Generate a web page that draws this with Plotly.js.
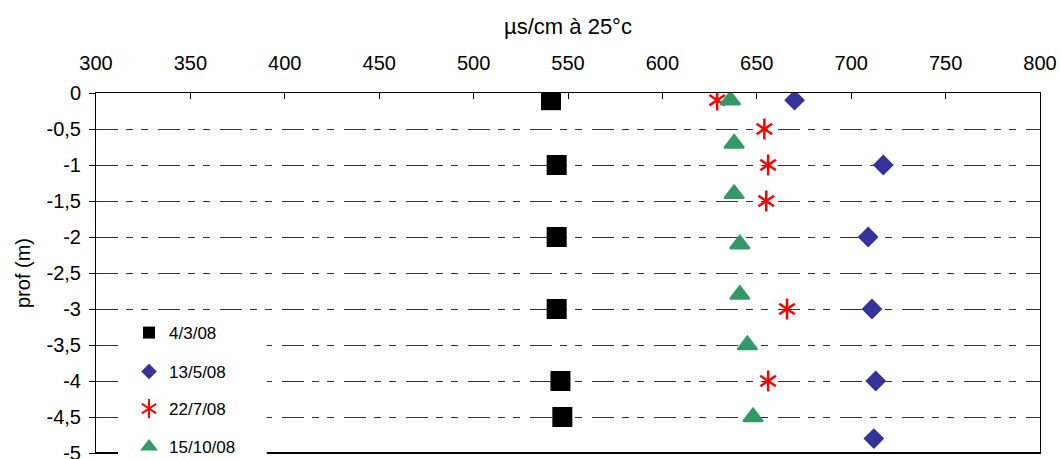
<!DOCTYPE html>
<html>
<head>
<meta charset="utf-8">
<script src="https://cdn.plot.ly/plotly-3.0.1.min.js"></script>
<style>html,body{margin:0;padding:0;background:#fff;}#chart{width:1060px;height:459px;}</style>
</head>
<body>
<div id="chart"></div>
<script>
// Series names
const seriesNames = ["4/3/08", "13/5/08", "22/7/08", "15/10/08"];

// 4/3/08
const s1x = [541, 544, 544, 544, 546, 547];
const s1y = [-0.1, -1, -2, -3, -4, -4.5];
// 13/5/08
const s2x = [670, 717, 709, 711, 713, 712];
const s2y = [-0.1, -1, -2, -3, -4, -4.8];
// 22/7/08
const s3x = [629, 654, 656, 655, 666, 656];
const s3y = [-0.1, -0.5, -1, -1.5, -3, -4];
// 15/10/08
const s4x = [636, 638, 638, 641, 641, 645, 648];
const s4y = [-0.1, -0.7, -1.4, -2.1, -2.8, -3.5, -4.5];

// Tick labels
const xTickVals = [300, 350, 400, 450, 500, 550, 600, 650, 700, 750, 800];
const xTickText = ["300", "350", "400", "450", "500", "550", "600", "650", "700", "750", "800"];
const yTickVals = [0, -0.5, -1, -1.5, -2, -2.5, -3, -3.5, -4, -4.5, -5];
const yTickText = ["0", "-0,5", "-1", "-1,5", "-2", "-2,5", "-3", "-3,5", "-4", "-4,5", "-5"];

const FONT = "Liberation Sans, Arial, sans-serif";
const legY = [0.3333, 0.225, 0.1222, 0.0167];
const legX = 0.035;

const traces = [
  {x: s1x, y: s1y, name: seriesNames[0], type: "scatter", mode: "markers", legend: "legend",
   marker: {symbol: "square", size: 20, color: "#000000"}},
  {x: s2x, y: s2y, name: seriesNames[1], type: "scatter", mode: "markers", legend: "legend2",
   marker: {symbol: "diamond", size: 16, color: "#333399"}},
  {x: s3x, y: s3y, name: seriesNames[2], type: "scatter", mode: "markers", legend: "legend3",
   marker: {symbol: "y-up-open", size: 13, color: "#FF0000", line: {color: "#FF0000", width: 2.5}}},
  {x: s3x, y: s3y, name: " ", type: "scatter", mode: "markers", legend: "legend5",
   marker: {symbol: "y-down-open", size: 13, color: "#FF0000", line: {color: "#FF0000", width: 2.5}}},
  {x: s4x, y: s4y, name: seriesNames[3], type: "scatter", mode: "markers", legend: "legend4",
   marker: {symbol: "triangle-up", size: 17, color: "#339966", line: {color: "#339966", width: 2}}}
];

function leg(y) {
  return {
    x: legX, y: y, xanchor: "left", yanchor: "middle",
    bgcolor: "rgba(0,0,0,0)", borderwidth: 0,
    font: {family: FONT, size: 17, color: "#000000"},
    itemsizing: "constant"
  };
}

const layout = {
  width: 1060, height: 459,
  margin: {l: 96, r: 20, t: 93, b: 6, autoexpand: false},
  paper_bgcolor: "#ffffff", plot_bgcolor: "#ffffff",
  font: {family: FONT, size: 20, color: "#000000"},
  showlegend: true,
  legend: leg(legY[0]),
  legend2: leg(legY[1]),
  legend3: leg(legY[2]),
  legend4: leg(legY[3]),
  legend5: leg(legY[2]),
  xaxis: {
    side: "top", range: [300, 800], tickvals: xTickVals, ticktext: xTickText,
    ticks: "inside", ticklen: 6, tickcolor: "#000", tickwidth: 1,
    showline: true, linecolor: "#000", linewidth: 1, mirror: true,
    showgrid: false, zeroline: false, ticklabelstandoff: 14,
    title: {text: "µs/cm à 25°c", font: {family: FONT, size: 22}, standoff: 11}
  },
  yaxis: {
    range: [-5, 0], tickvals: yTickVals, ticktext: yTickText,
    ticks: "outside", ticklen: 6, tickcolor: "#000", tickwidth: 1,
    showline: true, linecolor: "#000", linewidth: 1, mirror: true,
    showgrid: true, gridcolor: "#333333", gridwidth: 1, griddash: "22px,8px,7px,8px,7px,10px",
    zeroline: false, ticklabelstandoff: 4, ticklabeloverflow: "allow",
    title: {text: "prof (m)", font: {family: FONT, size: 20}, standoff: 10}
  },
  shapes: [
    {type: "line", xref: "paper", yref: "paper", x0: 0, x1: 1, y0: 0, y1: 0,
     line: {color: "#000000", width: 2}, layer: "above"},
    {type: "rect", xref: "paper", yref: "paper", x0: 0.0233, x1: 0.181, y0: -0.05, y1: 0.375,
     fillcolor: "#ffffff", line: {width: 0}, layer: "above"}
  ]
};

Plotly.newPlot("chart", traces, layout, {displayModeBar: false, staticPlot: true});
</script>
</body>
</html>
